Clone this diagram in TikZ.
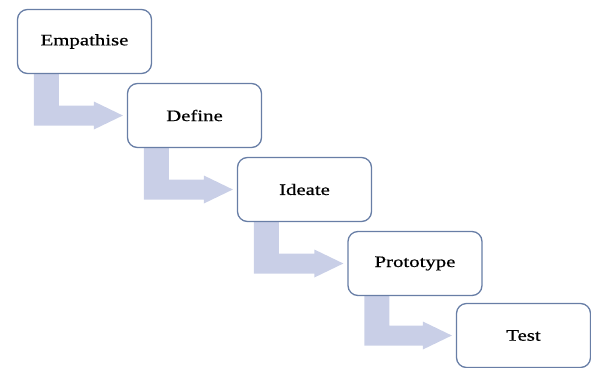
\documentclass[tikz,border=0pt]{standalone}
\usepackage{fontspec}
\setmainfont{Liberation Serif}
\newfontfamily\stagefont[FakeStretch=1.3, FakeBold=0.6]{Liberation Serif}
\usetikzlibrary{calc,backgrounds}
\definecolor{stageedge}{RGB}{104,126,166}
\definecolor{flowfill}{RGB}{201,207,231}
\tikzset{
  stagebox/.style={draw=stageedge, line width=1.3pt, fill=white,
    rounded corners=10pt, minimum width=134pt, minimum height=64pt,
    inner sep=0pt, font=\stagefont\fontsize{16}{18}\selectfont},
  flowarrow/.style={fill=flowfill, draw=none}
}
% bent block arrow from the bottom of one stage to the left side of the next
\newcommand{\flowstep}[2]{%
  \coordinate (#1-bl) at ($(#1.south west)+(17,0)$);
  \coordinate (#1-br) at ($(#1.south west)+(42,0)$);
  \coordinate (#2-up) at ($(#2.west)+(0,10)$);
  \coordinate (#2-dn) at ($(#2.west)+(0,-10)$);
  \fill[flowarrow]
    (#1-bl) -- (#1-br) -- (#1-br |- #2-up)
    -- ($(#2.west)+(-33,10)$) -- ($(#2.west)+(-33,14)$)
    -- ($(#2.west)+(-4,0)$)
    -- ($(#2.west)+(-33,-14)$) -- ($(#2.west)+(-33,-10)$)
    -- (#1-bl |- #2-dn) -- cycle;}
\begin{document}
\begin{tikzpicture}[x=1pt, y=1pt]
  \useasboundingbox (0,0) rectangle (591,-367);
  \node[stagebox] (s1) at (84.5,-41.5)  {Empathise};
  \node[stagebox] (s2) at (194.5,-115.5) {Define};
  \node[stagebox] (s3) at (304.5,-189.5) {Ideate};
  \node[stagebox] (s4) at (415,-263.5)  {Prototype};
  \node[stagebox] (s5) at (523.5,-335.5) {Test};
  \begin{scope}[on background layer]
    \flowstep{s1}{s2}
    \flowstep{s2}{s3}
    \flowstep{s3}{s4}
    \flowstep{s4}{s5}
  \end{scope}
\end{tikzpicture}
\end{document}
